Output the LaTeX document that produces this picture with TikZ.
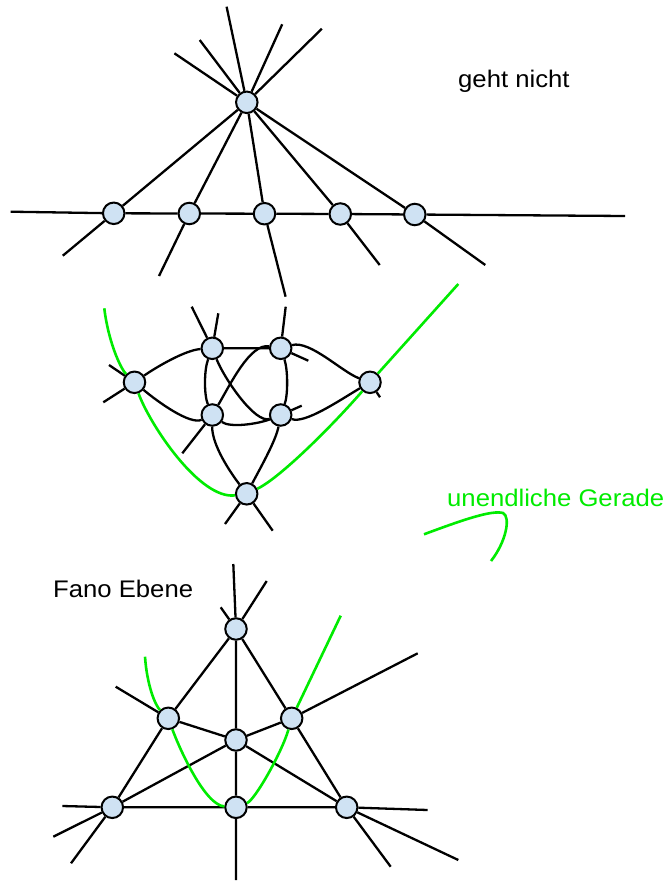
\documentclass[tikz,border=0pt]{standalone}
\usepackage{fontspec}
\setmainfont{Liberation Sans}
\usepackage{graphicx}
\definecolor{nodefill}{RGB}{207,226,243}
\definecolor{brightgreen}{RGB}{0,235,0}
\begin{document}
\begin{tikzpicture}[x=1pt,y=-1pt,
  vtx/.style={circle,draw=black,fill=nodefill,line width=2pt,minimum size=21.5pt,inner sep=0pt},
  ln/.style={line width=2.3pt,black},
  gln/.style={line width=2.6pt,brightgreen},
  lbl/.style={inner sep=0pt,font=\fontsize{24}{28}\selectfont}]
\useasboundingbox (0,0) rectangle (671,881);

% ---------- top figure ----------
\node[vtx] (T)  at (246.8,102.3) {};
\node[vtx] (n1) at (113.7,213.3) {};
\node[vtx] (n2) at (189.3,213.5) {};
\node[vtx] (n3) at (264.5,213.7) {};
\node[vtx] (n4) at (340.3,214.0) {};
\node[vtx] (n5) at (414.8,214.5) {};
\coordinate (t1u) at (321.9,28.7);  \coordinate (t1d) at (62.8,255.7);
\coordinate (t2u) at (282.2,24.3);  \coordinate (t2d) at (159,276);
\coordinate (t3u) at (226.6,6.7);   \coordinate (t3d) at (285.6,296.7);
\coordinate (t4u) at (199.7,40);    \coordinate (t4d) at (379.7,265);
\coordinate (t5u) at (174.4,53.3);  \coordinate (t5d) at (485.3,265);
\coordinate (hl) at (10.7,211.7);   \coordinate (hr) at (625,216);
\draw[ln] (t1u) -- (T) -- (n1) -- (t1d);
\draw[ln] (t2u) -- (T) -- (n2) -- (t2d);
\draw[ln] (t3u) -- (T) -- (n3) -- (t3d);
\draw[ln] (t4u) -- (T) -- (n4) -- (t4d);
\draw[ln] (t5u) -- (T) -- (n5) -- (t5d);
\draw[ln] (hl) -- (n1) -- (n2) -- (n3) -- (n4) -- (n5) -- (hr);
\node[lbl,anchor=base west] (gn) at (458,87.3) {\scalebox{1.07}[1]{geht nicht}};

% ---------- middle figure ----------
\node[vtx] (L)  at (134.5,382.3) {};
\node[vtx] (A)  at (212.3,348.3) {};
\node[vtx] (B)  at (280.7,348.3) {};
\node[vtx] (C)  at (212.3,415) {};
\node[vtx] (D)  at (280.7,415) {};
\node[vtx] (R)  at (370,382.3) {};
\node[vtx] (Bt) at (246.7,493.8) {};
\coordinate (sL1) at (109,365);     \coordinate (sL2) at (103.3,402.3);
\coordinate (sA1) at (191.7,306.7); \coordinate (sA2) at (218.3,313.3);
\coordinate (sB1) at (285.7,306.7); \coordinate (sB2) at (308.3,360.7);
\coordinate (sC) at (182.3,453.3);  \coordinate (sD) at (301.7,405.7);
\coordinate (sR) at (380,397.3);
\coordinate (sBt1) at (225,524);    \coordinate (sBt2) at (272.7,530.7);
% top line L-A-B
\draw[ln] (sL2) -- (L) .. controls (155,368) and (185,350) .. (A) -- (B) -- (sB2);
% bottom line L-C-D
\draw[ln] (sL1) -- (L) .. controls (158,402) and (190,425) .. (C)
          .. controls (230,428) and (258,424) .. (D) -- (sD);
% A-C-Bt
\draw[ln] (sA2) -- (A) .. controls (204,370) and (204,395) .. (C)
          .. controls (212,445) and (230,472) .. (Bt) -- (sBt2);
% B-D-Bt
\draw[ln] (sB1) -- (B) .. controls (288,370) and (288,395) .. (D)
          .. controls (276,440) and (262,465) .. (Bt) -- (sBt1);
% C-B-R
\draw[ln] (sC) -- (C) .. controls (230,385) and (250,343) .. (B)
          .. controls (310,340) and (342,372) .. (R) -- (sR);
% A-D-R
\draw[ln] (sA1) -- (A) .. controls (224,378) and (255,424) .. (D)
          .. controls (305,424) and (340,400) .. (R);
% green line at infinity
\coordinate (gm1) at (104.3,308.3); \coordinate (gm2) at (458.3,284);
\draw[gln] (gm1) .. controls (108,340) and (120,368) .. (L)
           .. controls (150,425) and (200,500) .. (Bt)
           .. controls (280,478) and (333,425) .. (R) -- (gm2);

% ---------- green label ----------
\node[lbl,text=brightgreen,anchor=base west] (ug) at (447,506) {\scalebox{1.07}[1]{unendliche Gerade}};
\coordinate (h1) at (424,534.3); \coordinate (h2) at (503,513); \coordinate (h3) at (491,561);
\draw[gln] (h1) .. controls (465,519) and (492,510) .. (h2)
           .. controls (511,517) and (506,542) .. (h3);

% ---------- Fano plane ----------
\node[lbl,anchor=base west] (fe) at (53,597) {\scalebox{1.07}[1]{Fano Ebene}};
\node[vtx] (fT)  at (236,629) {};
\node[vtx] (fML) at (168.3,718.3) {};
\node[vtx] (fMR) at (291.7,718.3) {};
\node[vtx] (fC)  at (236,740) {};
\node[vtx] (fBL) at (112.3,807.3) {};
\node[vtx] (fBM) at (236,807.3) {};
\node[vtx] (fBR) at (346.7,807.3) {};
\coordinate (v1) at (233.3,564);    \coordinate (v2) at (236,880);
\coordinate (l1) at (266.7,581);    \coordinate (l2) at (71,863.3);
\coordinate (r1) at (220.7,607.3);  \coordinate (r2) at (390.7,866.7);
\coordinate (b1) at (62.3,806);     \coordinate (b2) at (427.7,810);
\coordinate (m1a) at (53.3,836.7);  \coordinate (m1b) at (417.7,653.3);
\coordinate (m2a) at (115.7,686.7); \coordinate (m2b) at (458.3,860);
\draw[ln] (v1) -- (fT) -- (fC) -- (fBM) -- (v2);
\draw[ln] (l1) -- (fT) -- (fML) -- (fBL) -- (l2);
\draw[ln] (r1) -- (fT) -- (fMR) -- (fBR) -- (r2);
\draw[ln] (b1) -- (fBL) -- (fBM) -- (fBR) -- (b2);
\draw[ln] (m1a) -- (fBL) -- (fC) -- (fMR) -- (m1b);
\draw[ln] (m2a) -- (fML) -- (fC) -- (fBR) -- (m2b);
\coordinate (g1) at (145,656.7); \coordinate (g2) at (340.7,615.7);
\draw[gln] (g1) .. controls (147,685) and (155,705) .. (fML)
           .. controls (180,750) and (205,805) .. (fBM)
           .. controls (255,800) and (282,752) .. (fMR) -- (g2);
\end{tikzpicture}
\end{document}
